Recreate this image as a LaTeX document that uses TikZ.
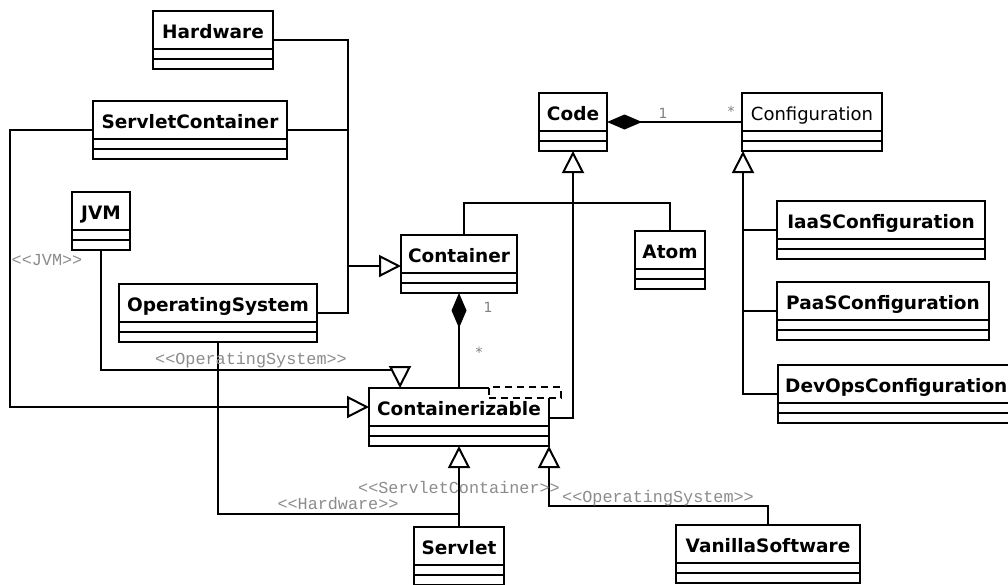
\documentclass[tikz,border=0pt]{standalone}
\usepackage{fontspec}
\setmainfont{DejaVu Sans}
\newfontfamily\stereofont{Liberation Mono}
\usetikzlibrary{arrows.meta,calc}
\newcommand\umlcls[5]{%
  \node[clsbox, minimum width=#4pt, anchor=north west] (#1) at (#2,#3) {};
  \node[clstitle, anchor=base] (#1-t) at ($(#1.north)+(0,27)$) {#5};
  \draw[clsline] ($(#1.north west)+(0,38)$) -- ($(#1.north east)+(0,38)$);
  \draw[clsline] ($(#1.north west)+(0,48)$) -- ($(#1.north east)+(0,48)$);
}
\begin{document}
\begin{tikzpicture}[x=1pt,y=-1pt,
  clsbox/.style={draw, line width=2pt, fill=white, minimum height=58pt, inner sep=0pt, outer sep=0pt},
  clstitle/.style={inner sep=0pt, font=\fontsize{18.5}{20}\selectfont\bfseries},
  clsline/.style={line width=2pt},
  conn/.style={line width=2pt},
  gen/.style={conn, -{Triangle[length=22pt,width=22pt,fill=white]}},
  comp/.style={conn, -{Diamond[length=35pt,width=15pt]}},
  stereo/.style={inner sep=0pt, text=black!45, font=\stereofont\fontsize{16.8}{18}\selectfont},
  mult/.style={inner sep=0pt, text=black!50, font=\fontsize{14}{16}\selectfont}]
\useasboundingbox[fill=white] (0,0) rectangle (1008,584);

% classes
\umlcls{hw}{153}{11}{120}{Hardware}
\umlcls{sc}{93}{101}{194}{ServletContainer}
\umlcls{jvm}{72}{192}{58}{JVM}
\umlcls{os}{119}{284}{198}{OperatingSystem}
\umlcls{code}{539}{93}{68}{Code}
\umlcls{conf}{742}{93}{140}{\mdseries\fontsize{18}{20}\selectfont Configuration}
\umlcls{cont}{401}{235}{116}{Container}
\umlcls{atom}{635}{231}{70}{Atom}
\umlcls{iaas}{777}{201}{208}{IaaSConfiguration}
\umlcls{paas}{777}{282}{212}{PaaSConfiguration}
\umlcls{cz}{369}{388}{180}{Containerizable}
\umlcls{servlet}{414}{527}{90}{Servlet}
\umlcls{vanilla}{676}{525}{184}{VanillaSoftware}
% DevOps (box runs past the right edge)
\node[clsbox, minimum width=250pt, anchor=north west] (devops) at (778,365) {};
\node[clstitle, anchor=base west] (devops-t) at ($(devops.north west)+(7,27)$) {DevOpsConfiguration};
\draw[clsline] ($(devops.north west)+(0,38)$) -- ($(devops.north east)+(0,38)$);
\draw[clsline] ($(devops.north west)+(0,48)$) -- ($(devops.north east)+(0,48)$);

% realisation tree into Container
\coordinate (bus) at (348,266);
\draw[conn] (hw.east) -| (bus) |- (os.east);
\draw[conn] (sc.east) -- (sc.east -| bus);
\draw[conn] ($(jvm.north east)+(0,19)$) -- ($(jvm.north east)+(0,19)$ -| bus);
\draw[gen] (bus) -- (bus -| cont.west);

% into Containerizable
\draw[gen] (sc.west) -- ++(-83,0) |- ($(cz.north west)+(0,19)$);
\draw[gen] (jvm.south) |- ($(cz.north west)+(31,-18)$) -- ($(cz.north west)+(31,0)$);
\draw[conn] (os.south) |- ($(servlet.north)+(0,-13)$);
\draw[gen] (servlet.north) -- (servlet.north |- cz.south);
\draw[gen] (vanilla.north) |- ($(cz.south east)+(0,60)$) -- (cz.south east);
\draw[comp] (cont.south |- cz.north) -- (cont.south);

% into Code
\draw[gen] ($(cz.north east)+(0,30)$) -| (code.south);
\draw[conn] ($(cont.north)+(5,0)$) |- ($(atom.north)+(0,-28)$) -- (atom.north);
\draw[comp] (conf.west) -- (code.east);

% Configuration hierarchy
\draw[gen] (devops.west) -| ($(conf.south west)+(1,0)$);
\draw[conn] (iaas.west) -- ++(-34,0);
\draw[conn] (paas.west) -- ++(-34,0);

% template parameter box
\node[draw, dashed, dash pattern=on 7pt off 5pt, fill=white, line width=2pt,
      minimum width=72pt, minimum height=11pt, inner sep=0pt, anchor=north west] (tmpl) at (488,386) {};

% multiplicities
\node[mult, anchor=base] (m1) at (663,118) {1};
\node[mult] (m2) at (731,111) {*};
\node[mult, anchor=base] (m3) at (488,312) {1};
\node[mult] (m4) at (479,352) {*};

% stereotypes
\node[stereo, anchor=base] (s1) at (47,265) {{<}{<}JVM{>}{>}};
\node[stereo, anchor=base] (s2) at (251,364) {{<}{<}OperatingSystem{>}{>}};
\node[stereo, anchor=base] (s3) at (338,509) {{<}{<}Hardware{>}{>}};
\node[stereo, anchor=base] (s4) at (459,493) {{<}{<}ServletContainer{>}{>}};
\node[stereo, anchor=base] (s5) at (658,502) {{<}{<}OperatingSystem{>}{>}};
\end{tikzpicture}
\end{document}
